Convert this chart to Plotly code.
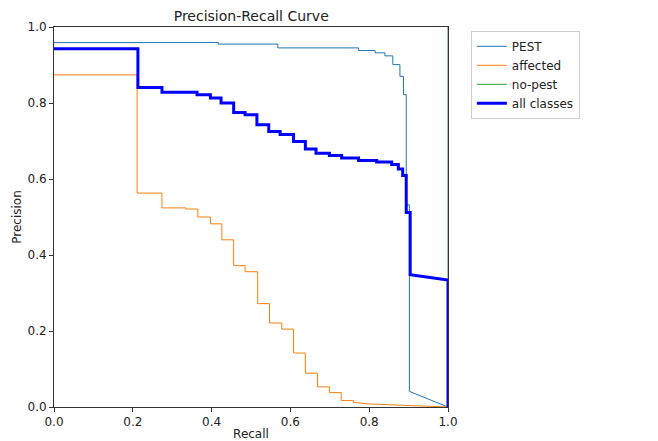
import plotly.graph_objects as go

# PEST curve vertices (recall, precision)
pest_recall = [0, 0.417, 0.417, 0.568, 0.568, 0.773, 0.773, 0.815, 0.815, 0.84, 0.84,
               0.86, 0.86, 0.878, 0.878, 0.887, 0.887, 0.894, 0.894, 0.902, 0.902, 1.0]
pest_precision = [0.959, 0.959, 0.955, 0.955, 0.945, 0.945, 0.938, 0.938, 0.932, 0.932, 0.924,
                  0.924, 0.901, 0.901, 0.870, 0.870, 0.822, 0.822, 0.532, 0.532, 0.041, 0.0]

affected_recall = [0, 0.211, 0.211, 0.274, 0.274, 0.335, 0.335, 0.365, 0.365, 0.397, 0.397,
                   0.426, 0.426, 0.456, 0.456, 0.485, 0.485, 0.517, 0.517, 0.547, 0.547,
                   0.578, 0.578, 0.608, 0.608, 0.638, 0.638, 0.669, 0.669, 0.699, 0.699,
                   0.729, 0.729, 0.760, 0.760, 0.80, 1.0]
affected_precision = [0.874, 0.874, 0.563, 0.563, 0.524, 0.524, 0.521, 0.521, 0.50, 0.50, 0.482,
                      0.482, 0.440, 0.440, 0.372, 0.372, 0.356, 0.356, 0.272, 0.272, 0.221,
                      0.221, 0.205, 0.205, 0.142, 0.142, 0.089, 0.089, 0.053, 0.053, 0.038,
                      0.038, 0.017, 0.017, 0.012, 0.008, 0.0]

nopest_recall = [1.0, 1.0]
nopest_precision = [1.0, 0.0]

all_recall = [0, 0.213, 0.213, 0.274, 0.274, 0.363, 0.363, 0.397, 0.397, 0.424, 0.424,
              0.456, 0.456, 0.485, 0.485, 0.515, 0.515, 0.545, 0.545, 0.574, 0.574,
              0.608, 0.608, 0.638, 0.638, 0.665, 0.665, 0.699, 0.699, 0.730, 0.730,
              0.773, 0.773, 0.819, 0.819, 0.857, 0.857, 0.874, 0.874, 0.885, 0.885,
              0.894, 0.894, 0.904, 0.904, 1.0, 1.0]
all_precision = [0.943, 0.943, 0.841, 0.841, 0.828, 0.828, 0.822, 0.822, 0.813, 0.813, 0.80,
                 0.80, 0.775, 0.775, 0.769, 0.769, 0.743, 0.743, 0.725, 0.725, 0.717,
                 0.717, 0.699, 0.699, 0.679, 0.679, 0.668, 0.668, 0.662, 0.662, 0.655,
                 0.655, 0.649, 0.649, 0.645, 0.645, 0.638, 0.638, 0.626, 0.626, 0.609,
                 0.609, 0.512, 0.512, 0.348, 0.334, 0.0]

tick_vals = [0.0, 0.2, 0.4, 0.6, 0.8, 1.0]
tick_text = ["0.0", "0.2", "0.4", "0.6", "0.8", "1.0"]

fig = go.Figure()
fig.add_trace(go.Scatter(x=pest_recall, y=pest_precision, mode="lines", name="PEST",
                         line=dict(color="#1f77b4", width=1)))
fig.add_trace(go.Scatter(x=affected_recall, y=affected_precision, mode="lines", name="affected",
                         line=dict(color="#ff7f0e", width=1)))
fig.add_trace(go.Scatter(x=nopest_recall, y=nopest_precision, mode="lines", name="no-pest",
                         line=dict(color="#2ca02c", width=1)))
fig.add_trace(go.Scatter(x=all_recall, y=all_precision, mode="lines", name="all classes",
                         line=dict(color="#0000ff", width=3)))

# the page body adds an 8px offset; margins compensate for it
font_family = "DejaVu Sans"
fig.update_layout(
    width=650, height=433, autosize=False,
    margin=dict(l=45.5, r=210, t=19.3, b=33.7, autoexpand=False),
    paper_bgcolor="white", plot_bgcolor="white",
    font=dict(family=font_family, size=12, color="#222222"),
    title=dict(text="Precision-Recall Curve", x=(251 - 53.5) / 394.5, xref="paper", xanchor="center",
               y=1 - 8 / 433, yanchor="middle", font=dict(size=14, color="#222222")),
    showlegend=True,
    legend=dict(x=1.058, y=0.99, xanchor="left", yanchor="top",
                bordercolor="#cccccc", borderwidth=1, bgcolor="white",
                font=dict(size=12), itemwidth=30, tracegroupgap=0),
    xaxis=dict(range=[0, 1], tickvals=tick_vals, ticktext=tick_text, showgrid=False,
               zeroline=False, showline=True, mirror=True, linecolor="#333333", linewidth=1,
               ticks="outside", ticklen=4, tickcolor="#333333", automargin=False,
               title=dict(text="Recall", standoff=2, font=dict(size=12))),
    yaxis=dict(range=[0, 1], tickvals=tick_vals, ticktext=tick_text, showgrid=False,
               zeroline=False, showline=True, mirror=True, linecolor="#333333", linewidth=1,
               ticks="outside", ticklen=4, tickcolor="#333333", automargin=False,
               title=dict(text="Precision", standoff=3, font=dict(size=12))),
)

fig.write_html("out.html")
